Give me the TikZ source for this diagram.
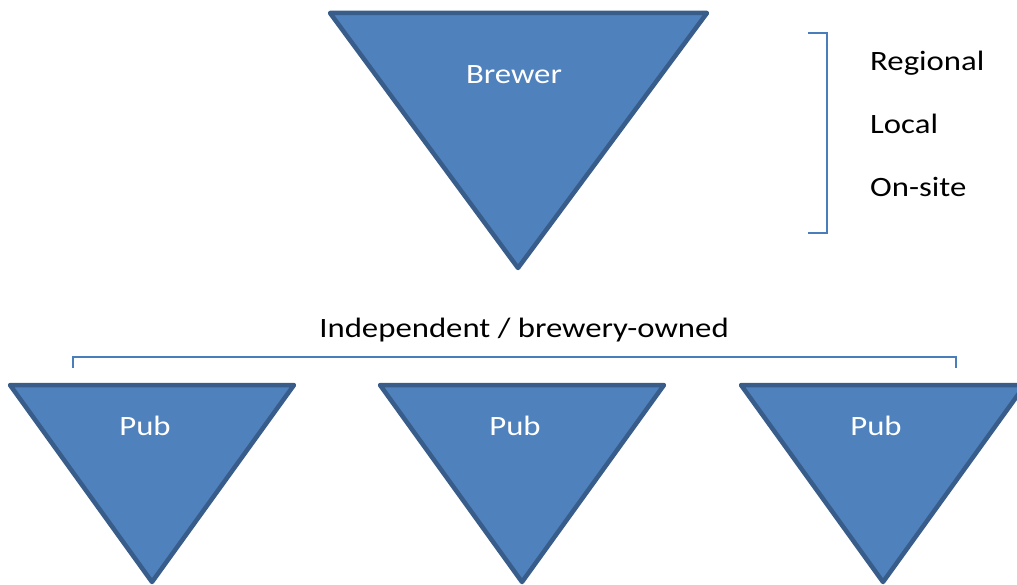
\documentclass[tikz,border=0pt]{standalone}
\usepackage{fontspec}
\setmainfont{Carlito}[FakeStretch=1.17]
\usetikzlibrary{positioning}
\definecolor{tribody}{HTML}{4F81BD}
\definecolor{triedge}{HTML}{385D8A}
\definecolor{brkline}{HTML}{4A7EBB}
\begin{document}
\begin{tikzpicture}[x=1pt,y=-1pt,font=\fontsize{28}{34}\selectfont,
  tri/.style={draw=triedge,line width=4.5pt,fill=tribody,line join=round},
  lbl/.style={text=white,inner sep=0pt,anchor=base},
  brk/.style={draw=brkline,line width=2.2pt},
  tag/.style={inner sep=0pt,anchor=base west}]
\useasboundingbox (0,0) rectangle (1017,585);
% brewer
\draw[tri] (330,13) -- (707,13) -- (518,268) -- cycle;
\node[lbl] (brewer) at (514,84) {Brewer};
% scale bracket
\coordinate (rt) at (808,33);
\coordinate (rb) at (808,233);
\draw[brk] (rt) -- ++(19,0) |- (rb);
\node[tag] (regional) at (870,71) {Regional};
\node[tag] (local) at (870,134) {Local};
\node[tag] (onsite) at (870,197) {On-site};
% pubs
\foreach \x/\n in {152/a,522/b,883/c}{
  \draw[tri] (\x-142,385) -- (\x+142,385) -- (\x,582) -- cycle;
  \node[lbl] (pub\n) at (\x-7,435) {Pub};}
% ownership bracket
\node[inner sep=0pt,anchor=base] (owner) at (524,337) {Independent / brewery-owned};
\coordinate (bl) at (73,368);
\coordinate (br) at (956,368);
\draw[brk] (bl) -- ++(0,-11) -| (br);
\end{tikzpicture}
\end{document}
